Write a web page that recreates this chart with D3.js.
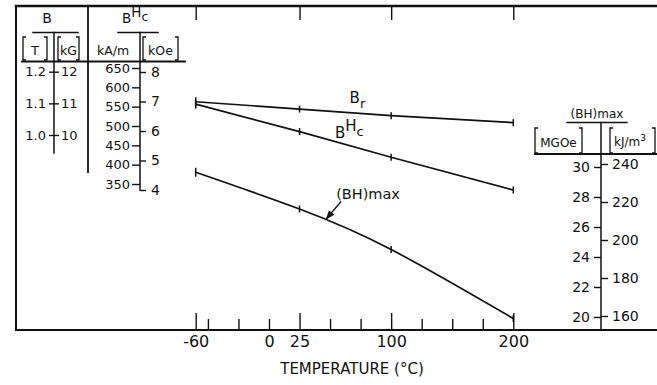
<!DOCTYPE html>
<html>
<head>
<meta charset="utf-8">
<script src="https://cdn.jsdelivr.net/npm/d3@7"></script>
<style>
  html, body { margin: 0; padding: 0; background: #fff; }
  svg { display: block; }
  text { font-family: "DejaVu Sans", "Liberation Sans", sans-serif; fill: #111; }
</style>
</head>
<body>
<svg id="chart" width="657" height="385"></svg>
<script>
// Temperature points (°C) at which the magnet was measured
const temps = [-60, 25, 100, 200];
// Remanence Br (tesla)
const remanence = [1.105, 1.082, 1.061, 1.039];
// Intrinsic coercivity BHc (kOe)
const coercivity = [6.91, 5.98, 5.11, 4.0];
// Maximum energy product (BH)max (MGOe)
const energyProduct = [29.65, 27.2, 24.5, 19.9];

// Axis tick labels
const tempMajorTicks = [-60, 25, 100, 200];
const tempMinorTicks = [-50, -25, 0, 50, 75, 125, 150, 175];
const tempLabels = [-60, 0, 25, 100, 200];
const teslaTicks = [1.0, 1.1, 1.2];
const kGTicks = [10, 11, 12];
const kAmTicks = [350, 400, 450, 500, 550, 600, 650];
const kOeTicks = [4, 5, 6, 7, 8];
const mgoeTicks = [20, 22, 24, 26, 28, 30];
const kJTicks = [160, 180, 200, 220, 240];

const svg = d3.select("#chart");
const ink = "#111";
const intFmt = d3.format("d");

// Scales
const x = d3.scaleLinear().domain([-60, 200]).range([195.7, 513.3]);
const yT = d3.scaleLinear().domain([1.0, 1.2]).range([135, 71.7]);
const ykG = d3.scaleLinear().domain([10, 12]).range([135, 71.7]);
const ykAm = d3.scaleLinear().domain([350, 650]).range([184, 68]);
const ykOe = d3.scaleLinear().domain([4, 8]).range([190, 72]);
const yMGOe = d3.scaleLinear().domain([20, 30]).range([317, 167]);
const ykJ = d3.scaleLinear().domain([160, 240]).range([316, 164]);

const frameLeft = 16, frameTop = 6, baseY = 330, rightEdge = 657;

function seg(x1, y1, x2, y2, w) {
  svg.append("line").attr("x1", x1).attr("y1", y1).attr("x2", x2).attr("y2", y2)
    .attr("stroke", ink).attr("stroke-width", w || 1.5).attr("stroke-linecap", "square");
}
function bracket(x0, x1, y0, y1) {
  const p = d3.path();
  p.moveTo(x0 + 3, y0); p.lineTo(x0, y0); p.lineTo(x0, y1); p.lineTo(x0 + 3, y1);
  p.moveTo(x1 - 3, y0); p.lineTo(x1, y0); p.lineTo(x1, y1); p.lineTo(x1 - 3, y1);
  svg.append("path").attr("d", p.toString()).attr("fill", "none")
    .attr("stroke", ink).attr("stroke-width", 1.3);
}
function styleAxis(g, size) {
  g.select(".domain").remove();
  g.selectAll(".tick line").attr("stroke", ink).attr("stroke-width", 1.4);
  g.selectAll(".tick text").attr("fill", ink)
    .style("font-family", "'DejaVu Sans', sans-serif").style("font-size", size + "px");
}

// Frame: top edge, left edge and the temperature baseline
seg(frameLeft, frameTop, rightEdge, frameTop, 2.4);
seg(frameLeft, frameTop, frameLeft, baseY, 2);
seg(frameLeft, baseY, rightEdge, baseY, 2);

// Temperature axis: ticks on top edge
svg.append("g").attr("transform", `translate(0,${frameTop})`)
  .call(d3.axisBottom(x).tickValues(tempMajorTicks).tickSize(14).tickFormat(""))
  .call(g => styleAxis(g, 14));

// Temperature axis: major and minor ticks on the baseline
svg.append("g").attr("transform", `translate(0,${baseY})`)
  .call(d3.axisTop(x).tickValues(tempMajorTicks).tickSize(17).tickFormat(""))
  .call(g => styleAxis(g, 14));
svg.append("g").attr("transform", `translate(0,${baseY})`)
  .call(d3.axisTop(x).tickValues(tempMinorTicks).tickSize(11).tickFormat(""))
  .call(g => styleAxis(g, 14));
svg.append("g").attr("transform", `translate(0,${baseY})`)
  .call(d3.axisBottom(x).tickValues(tempLabels).tickSize(0).tickPadding(6).tickFormat(d => String(d)))
  .call(g => styleAxis(g, 16));

svg.append("text").attr("x", 352).attr("y", 374).attr("text-anchor", "middle")
  .style("font-size", "15px").text("TEMPERATURE (°C)");

// ---- Left scale panel: B (T, kG) and BHc (kA/m, kOe) ----
seg(88, frameTop, 88, 172, 1.8);           // divider between B and BHc
seg(22, 61.5, 185, 61.5, 1.8);             // header rule

// B header
svg.append("text").attr("x", 47).attr("y", 23).attr("text-anchor", "middle")
  .style("font-size", "14px").text("B");
seg(33, 32.5, 78, 32.5, 1.5);
bracket(23, 47, 37, 60);
svg.append("text").attr("x", 35).attr("y", 55).attr("text-anchor", "middle")
  .style("font-size", "13px").text("T");
bracket(58, 79, 37, 60);
svg.append("text").attr("x", 68.5).attr("y", 55).attr("text-anchor", "middle")
  .style("font-size", "12.5px").text("kG");
seg(54, 32.5, 54, 153, 1.5);
svg.append("g").attr("transform", "translate(54,0)")
  .call(d3.axisLeft(yT).tickValues(teslaTicks).tickSize(5).tickPadding(3).tickFormat(d3.format(".1f")))
  .call(g => styleAxis(g, 13));
svg.append("g").attr("transform", "translate(54,0)")
  .call(d3.axisRight(ykG).tickValues(kGTicks).tickSize(5).tickPadding(2).tickFormat(intFmt))
  .call(g => styleAxis(g, 13));

// BHc header
const hcHead = svg.append("text").attr("x", 122).attr("y", 23).style("font-size", "13.5px");
hcHead.append("tspan").text("B");
hcHead.append("tspan").attr("dy", -6).text("H");
hcHead.append("tspan").attr("dy", 4).style("font-size", "12px").text("c");
seg(118, 32.5, 158, 32.5, 1.5);
svg.append("text").attr("x", 113).attr("y", 55).attr("text-anchor", "middle")
  .style("font-size", "12.5px").text("kA/m");
bracket(143, 178, 37, 60);
svg.append("text").attr("x", 160.5).attr("y", 55).attr("text-anchor", "middle")
  .style("font-size", "12.5px").text("kOe");
seg(140, 32.5, 140, 190, 1.5);
svg.append("g").attr("transform", "translate(140,0)")
  .call(d3.axisLeft(ykAm).tickValues(kAmTicks).tickSize(8).tickPadding(2).tickFormat(intFmt))
  .call(g => styleAxis(g, 13));
svg.append("g").attr("transform", "translate(140,0)")
  .call(d3.axisRight(ykOe).tickValues(kOeTicks).tickSize(6).tickPadding(5).tickFormat(intFmt))
  .call(g => styleAxis(g, 14));

// ---- Right scale panel: (BH)max (MGOe, kJ/m3) ----
svg.append("text").attr("x", 597).attr("y", 118).attr("text-anchor", "middle")
  .style("font-size", "12px").text("(BH)max");
seg(567, 122.5, 627, 122.5, 1.5);
seg(535, 154, rightEdge, 154, 1.8);
bracket(535, 582, 128, 153);
svg.append("text").attr("x", 558.5).attr("y", 147).attr("text-anchor", "middle")
  .style("font-size", "12px").text("MGOe");
bracket(610, 655, 128, 153);
const kjHead = svg.append("text").attr("x", 614).attr("y", 146).style("font-size", "12px");
kjHead.append("tspan").text("kJ/m");
kjHead.append("tspan").attr("dy", -5).style("font-size", "9px").text("3");
seg(601, 122.5, 601, baseY, 1.5);
svg.append("g").attr("transform", "translate(601,0)")
  .call(d3.axisLeft(yMGOe).tickValues(mgoeTicks).tickSize(7).tickPadding(4).tickFormat(intFmt))
  .call(g => styleAxis(g, 14));
svg.append("g").attr("transform", "translate(601,0)")
  .call(d3.axisRight(ykJ).tickValues(kJTicks).tickSize(7).tickPadding(4).tickFormat(intFmt))
  .call(g => styleAxis(g, 14));

// ---- Curves ----
const series = [
  { values: remanence, y: yT, curve: d3.curveLinear },
  { values: coercivity, y: ykOe, curve: d3.curveLinear },
  { values: energyProduct, y: yMGOe, curve: d3.curveNatural }
];
series.forEach(s => {
  const pts = temps.map((t, i) => [t, s.values[i]]);
  svg.append("path")
    .attr("d", d3.line().x(d => x(d[0])).y(d => s.y(d[1])).curve(s.curve)(pts))
    .attr("fill", "none").attr("stroke", ink).attr("stroke-width", 1.7);
  svg.append("g").selectAll("line").data(pts).join("line")
    .attr("x1", d => x(d[0])).attr("x2", d => x(d[0]))
    .attr("y1", (d, i) => s.y(d[1]) - (i === 0 ? 4.5 : 3.5))
    .attr("y2", (d, i) => s.y(d[1]) + (i === 0 ? 4.5 : 3.5))
    .attr("stroke", ink).attr("stroke-width", 1.5);
});

// Curve labels
const brLabel = svg.append("text").attr("x", x(66)).attr("y", yT(1.101)).style("font-size", "15px");
brLabel.append("tspan").text("B");
brLabel.append("tspan").attr("dy", 5).style("font-size", "13px").text("r");

const hcLabel = svg.append("text").attr("x", x(54)).attr("y", ykOe(5.77)).style("font-size", "15px");
hcLabel.append("tspan").text("B");
hcLabel.append("tspan").attr("dy", -7).text("H");
hcLabel.append("tspan").attr("dy", 5).style("font-size", "13px").text("c");

svg.append("text").attr("x", x(55)).attr("y", yMGOe(27.9)).style("font-size", "14.5px").text("(BH)max");

// Arrow pointing from the label to the (BH)max curve
svg.append("defs").append("marker").attr("id", "arrowhead")
  .attr("viewBox", "0 0 10 10").attr("refX", 9).attr("refY", 5)
  .attr("markerWidth", 7).attr("markerHeight", 7).attr("orient", "auto")
  .append("path").attr("d", "M0,1 L10,5 L0,9 Z").attr("fill", ink);
svg.append("line")
  .attr("x1", x(59)).attr("y1", yMGOe(27.7))
  .attr("x2", x(47)).attr("y2", yMGOe(26.55))
  .attr("stroke", ink).attr("stroke-width", 1.3).attr("marker-end", "url(#arrowhead)");
</script>
</body>
</html>
